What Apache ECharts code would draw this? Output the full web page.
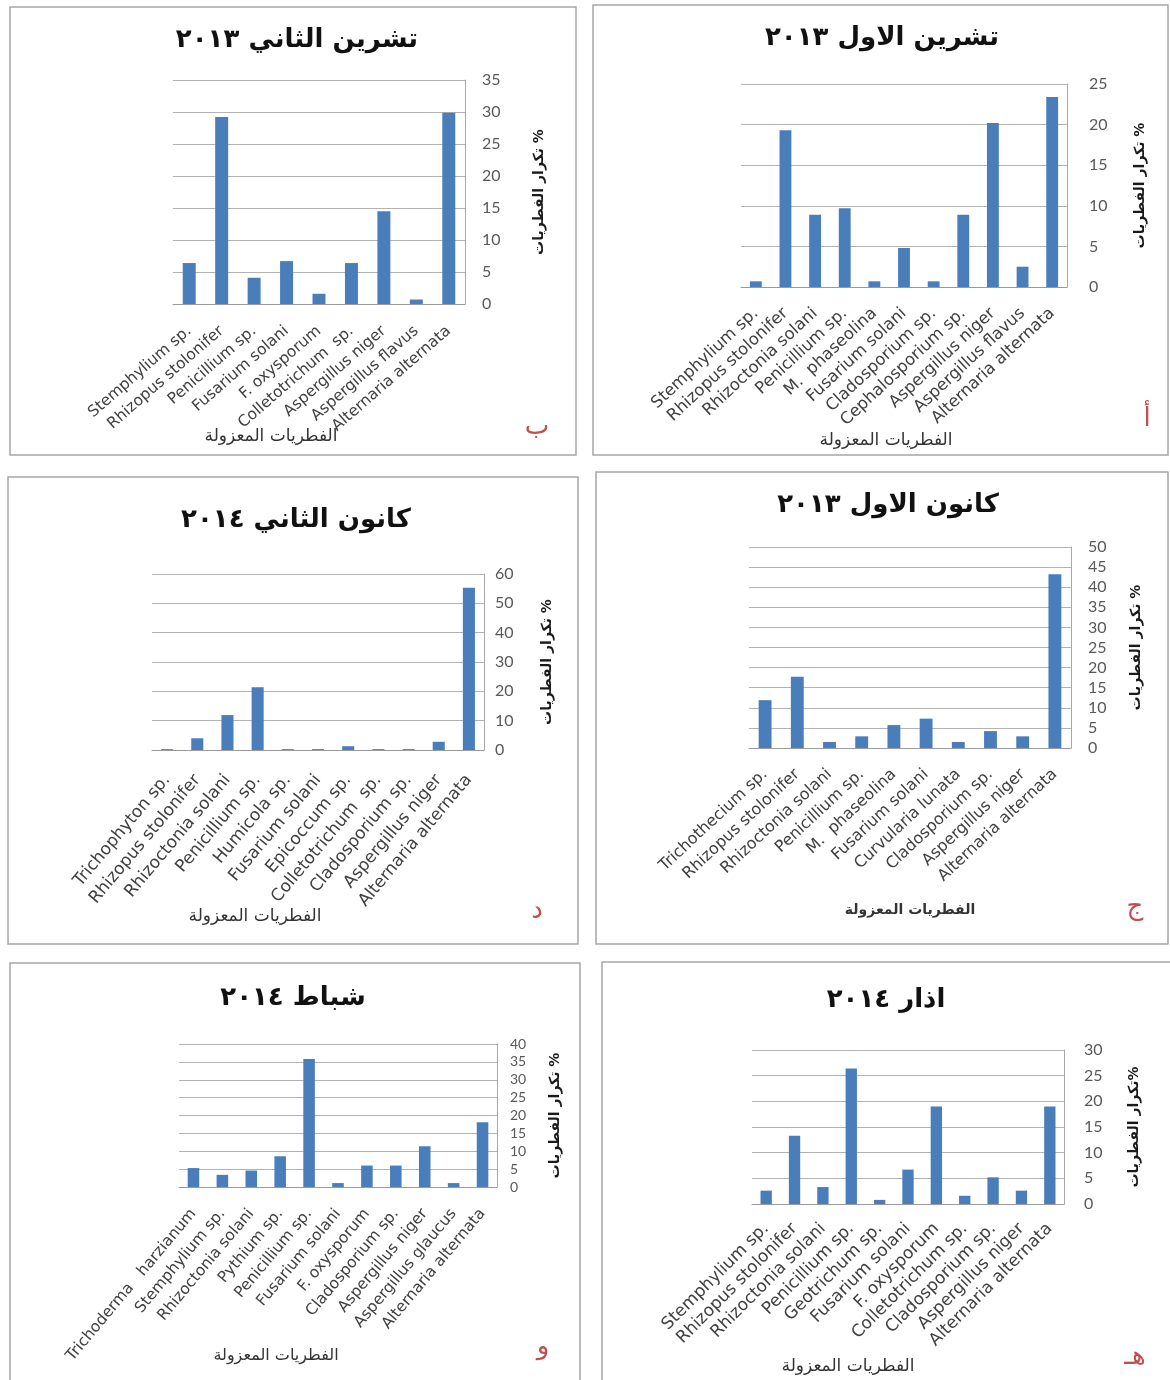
<!DOCTYPE html>
<html>
<head>
<meta charset="utf-8">
<script src="https://cdn.jsdelivr.net/npm/echarts@6/dist/echarts.min.js"></script>
<style>
  html, body { margin: 0; padding: 0; background: #ffffff; }
  #chart { width: 1170px; height: 1380px; }
</style>
</head>
<body>
<div id="chart"></div>
<script>
// Isolated fungi frequency (%) per sampling month

// October 2013
const octCategories = ['Stemphylium sp.', 'Rhizopus stolonifer', 'Rhizoctonia solani', 'Penicillium sp.', 'M.  phaseolina', 'Fusarium solani', 'Cladosporium sp.', 'Cephalosporium sp.', 'Aspergillus niger', 'Aspergillus flavus', 'Alternaria alternata'];
const octValues = [0.7, 19.3, 8.9, 9.7, 0.7, 4.8, 0.7, 8.9, 20.2, 2.5, 23.4];
const octTicks = [0, 5, 10, 15, 20, 25];

// November 2013
const novCategories = ['Stemphylium sp.', 'Rhizopus stolonifer', 'Penicillium sp.', 'Fusarium solani', 'F. oxysporum', 'Colletotrichum  sp.', 'Aspergillus niger', 'Aspergillus flavus', 'Alternaria alternata'];
const novValues = [6.4, 29.2, 4.1, 6.7, 1.6, 6.4, 14.5, 0.7, 29.9];
const novTicks = [0, 5, 10, 15, 20, 25, 30, 35];

// December 2013
const decCategories = ['Trichothecium sp.', 'Rhizopus stolonifer', 'Rhizoctonia solani', 'Penicillium sp.', 'M.  phaseolina', 'Fusarium solani', 'Curvularia lunata', 'Cladosporium sp.', 'Aspergillus niger', 'Alternaria alternata'];
const decValues = [11.9, 17.7, 1.5, 2.9, 5.7, 7.3, 1.5, 4.2, 2.9, 43.2];
const decTicks = [0, 5, 10, 15, 20, 25, 30, 35, 40, 45, 50];

// January 2014
const janCategories = ['Trichophyton sp.', 'Rhizopus stolonifer', 'Rhizoctonia solani', 'Penicillium sp.', 'Humicola sp.', 'Fusarium solani', 'Epicoccum sp.', 'Colletotrichum  sp.', 'Cladosporium sp.', 'Aspergillus niger', 'Alternaria alternata'];
const janValues = [0.3, 4.0, 11.9, 21.4, 0.3, 0.3, 1.3, 0.3, 0.3, 2.8, 55.3];
const janTicks = [0, 10, 20, 30, 40, 50, 60];

// February 2014
const febCategories = ['Trichoderma   harzianum', 'Stemphylium sp.', 'Rhizoctonia solani', 'Pythium sp.', 'Penicillium sp.', 'Fusarium solani', 'F. oxysporum', 'Cladosporium sp.', 'Aspergillus niger', 'Aspergillus glaucus', 'Alternaria alternata'];
const febValues = [5.3, 3.4, 4.6, 8.6, 35.8, 1.1, 6.0, 6.0, 11.4, 1.1, 18.1];
const febTicks = [0, 5, 10, 15, 20, 25, 30, 35, 40];

// March 2014
const marCategories = ['Stemphylium sp.', 'Rhizopus stolonifer', 'Rhizoctonia solani', 'Penicillium sp.', 'Geotrichum sp.', 'Fusarium solani', 'F. oxysporum', 'Colletotrichum sp.', 'Cladosporium sp.', 'Aspergillus niger', 'Alternaria alternata'];
const marValues = [2.6, 13.3, 3.3, 26.4, 0.8, 6.7, 19.0, 1.6, 5.2, 2.6, 19.0];
const marTicks = [0, 5, 10, 15, 20, 25, 30];

const yTitle = 'تكرار الفطريات %';
const yTitleTight = 'تكرار الفطريات%';
const xTitle = 'الفطريات المعزولة';

// Panel layout: frame box, plot box, label styling and text anchors
const panels = [
  { title: 'تشرين الاول ٢٠١٣', letter: 'أ', cats: octCategories, vals: octValues, ticks: octTicks, yName: yTitle,
    frame: [593, 5, 575, 450], grid: [741, 84, 326, 203], titleAt: [882, 38], letterAt: [1147, 419], xNameAt: [886, 441],
    yNameGap: 66, labelMargin: 22, yFont: 16, catFont: 16.5, catRotate: 43, catMargin: 24, xNameFont: 17, xNameBold: false },
  { title: 'تشرين الثاني ٢٠١٣', letter: 'ب', cats: novCategories, vals: novValues, ticks: novTicks, yName: yTitle,
    frame: [10, 7, 566, 448], grid: [173, 80, 292, 224], titleAt: [297, 40], letterAt: [537, 427], xNameAt: [271, 437],
    yNameGap: 67, labelMargin: 17, yFont: 16, catFont: 15.5, catRotate: 41, catMargin: 25, xNameFont: 17, xNameBold: false },
  { title: 'كانون الاول ٢٠١٣', letter: 'ج', cats: decCategories, vals: decValues, ticks: decTicks, yName: yTitle,
    frame: [596, 472, 572, 472], grid: [749, 547, 322, 201], titleAt: [888, 505], letterAt: [1135, 907], xNameAt: [910, 910],
    yNameGap: 58, labelMargin: 17, yFont: 16, catFont: 16, catRotate: 43, catMargin: 24, xNameFont: 14, xNameBold: true },
  { title: 'كانون الثاني ٢٠١٤', letter: 'د', cats: janCategories, vals: janValues, ticks: janTicks, yName: yTitle,
    frame: [8, 477, 570, 467], grid: [152, 574, 332, 176], titleAt: [296, 520], letterAt: [537, 911], xNameAt: [255, 917],
    yNameGap: 56, labelMargin: 11, yFont: 16, catFont: 17, catRotate: 50, catMargin: 27, xNameFont: 17, xNameBold: false },
  { title: 'شباط ٢٠١٤', letter: 'و', cats: febCategories, vals: febValues, ticks: febTicks, yName: yTitle,
    frame: [10, 963, 570, 430], grid: [179, 1044, 318, 143], titleAt: [293, 998], letterAt: [543, 1347], xNameAt: [276, 1356],
    yNameGap: 51, labelMargin: 13, yFont: 14, catFont: 15.5, catRotate: 50, catMargin: 24, xNameFont: 16, xNameBold: false },
  { title: 'اذار ٢٠١٤', letter: 'هـ', cats: marCategories, vals: marValues, ticks: marTicks, yName: yTitleTight,
    frame: [602, 962, 580, 430], grid: [752, 1050, 312, 154], titleAt: [886, 1000], letterAt: [1135, 1357], xNameAt: [848, 1367],
    yNameGap: 63, labelMargin: 20, yFont: 16, catFont: 17, catRotate: 45, catMargin: 22, xNameFont: 17, xNameBold: false }
];

const BAR = '#4a7ebb';
const GRID_LINE = '#b2b2b2';
const TICK_FONT = 'Lato, "Open Sans", sans-serif';
const CAT_FONT = '"DejaVu Sans", sans-serif';
const ARABIC_FONT = '"DejaVu Sans", sans-serif';

const option = {
  backgroundColor: '#ffffff',
  animation: false,
  grid: [], xAxis: [], yAxis: [], series: [], graphic: []
};

panels.forEach((p, i) => {
  const [gl, gt, gw, gh] = p.grid;
  option.grid.push({ left: gl, top: gt, width: gw, height: gh, containLabel: false, outerBoundsMode: 'none' });

  option.xAxis.push({
    type: 'category', gridIndex: i, data: p.cats,
    axisLine: { show: true, lineStyle: { color: '#9a9a9a', width: 1 } },
    axisTick: { show: false },
    axisLabel: { interval: 0, rotate: p.catRotate, margin: p.catMargin, color: '#404040',
                 fontSize: p.catFont, fontFamily: CAT_FONT }
  });

  const t = p.ticks;
  option.yAxis.push({
    type: 'value', gridIndex: i, position: 'right',
    min: t[0], max: t[t.length - 1], interval: t[1] - t[0],
    axisLine: { show: true, lineStyle: { color: '#a8a8a8', width: 1 } },
    axisTick: { show: false },
    splitLine: { show: true, lineStyle: { color: GRID_LINE, width: 1 } },
    axisLabel: { margin: p.labelMargin, color: '#595959', fontSize: p.yFont, fontFamily: TICK_FONT },
    name: p.yName, nameLocation: 'middle', nameGap: p.yNameGap,
    nameTextStyle: { color: '#1a1a1a', fontSize: 14, fontWeight: 'bold', fontFamily: ARABIC_FONT }
  });

  option.series.push({
    type: 'bar', xAxisIndex: i, yAxisIndex: i, data: p.vals,
    barCategoryGap: '60%', silent: true,
    itemStyle: { color: BAR }
  });

  const [fx, fy, fw, fh] = p.frame;
  option.graphic.push({
    type: 'rect', silent: true, z: -1,
    shape: { x: fx, y: fy, width: fw, height: fh },
    style: { fill: 'none', stroke: '#a6a6a6', lineWidth: 1.5 }
  });
  option.graphic.push({
    type: 'text', silent: true, x: p.titleAt[0], y: p.titleAt[1],
    style: { text: p.title, align: 'center', verticalAlign: 'middle', fill: '#111111',
             font: 'bold 26px ' + ARABIC_FONT }
  });
  option.graphic.push({
    type: 'text', silent: true, x: p.xNameAt[0], y: p.xNameAt[1],
    style: { text: xTitle, align: 'center', verticalAlign: 'middle', fill: '#333333',
             font: (p.xNameBold ? 'bold ' : '') + p.xNameFont + 'px ' + ARABIC_FONT }
  });
  option.graphic.push({
    type: 'text', silent: true, x: p.letterAt[0], y: p.letterAt[1],
    style: { text: p.letter, align: 'center', verticalAlign: 'middle', fill: '#c0504d',
             font: '26px ' + ARABIC_FONT }
  });
});

const chart = echarts.init(document.getElementById('chart'), null, { renderer: 'canvas' });
chart.setOption(option);
</script>
</body>
</html>
